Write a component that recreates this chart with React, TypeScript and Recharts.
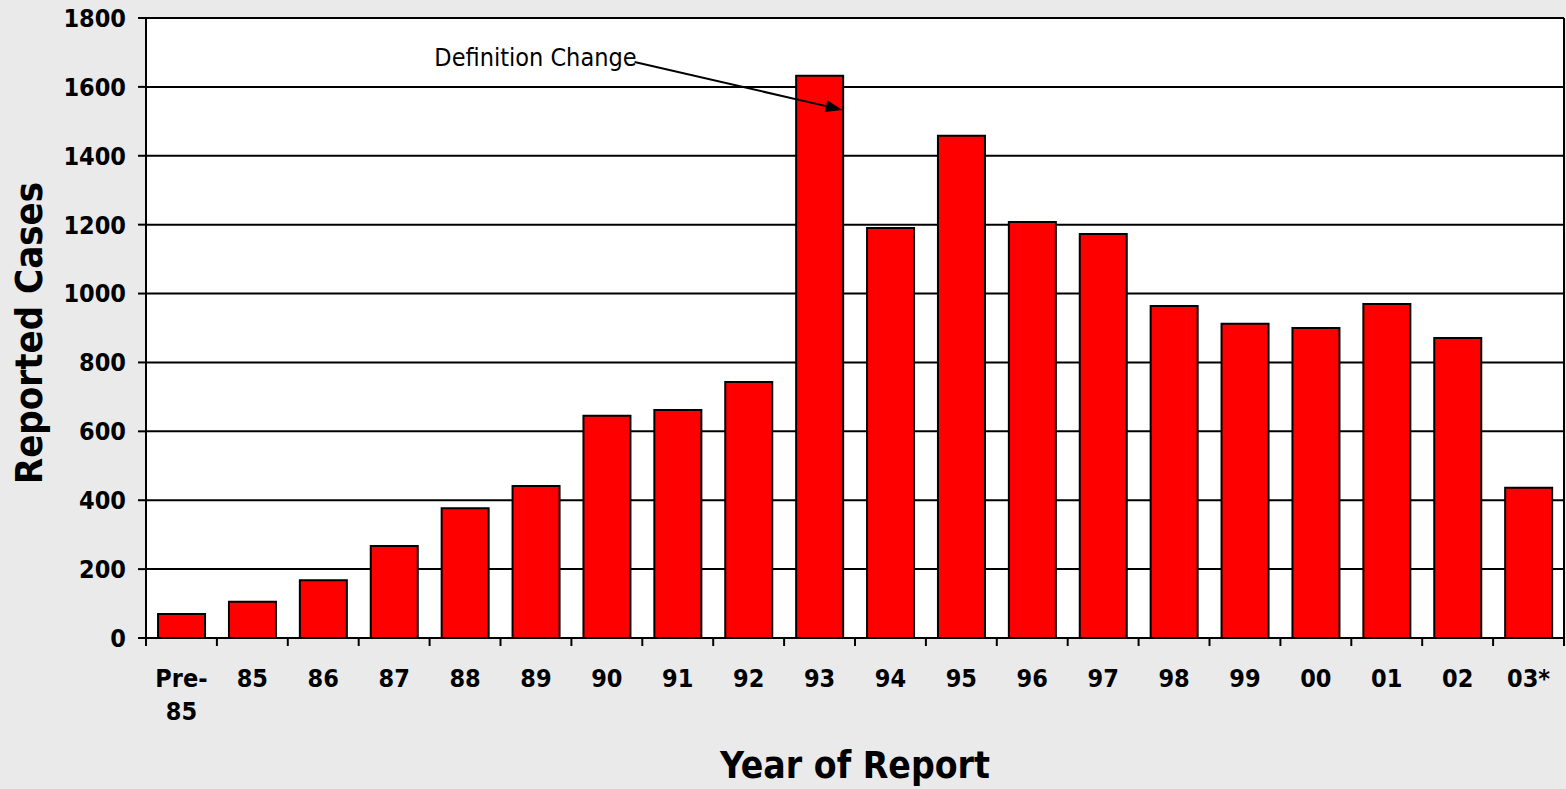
import {
  Bar,
  BarChart,
  CartesianGrid,
  Label,
  ReferenceDot,
  XAxis,
  YAxis,
} from "recharts";

const categories = [
  "Pre-85", "85", "86", "87", "88", "89", "90", "91", "92", "93",
  "94", "95", "96", "97", "98", "99", "00", "01", "02", "03*",
];
const reportedCases = [
  70, 105, 168, 267, 377, 441, 645, 662, 743, 1632,
  1190, 1458, 1208, 1173, 964, 912, 900, 970, 871, 436,
];
const yTicks = [0, 200, 400, 600, 800, 1000, 1200, 1400, 1600, 1800];

const data = categories.map((year, i) => ({ year, cases: reportedCases[i] }));

const FONT = "Tahoma, 'DejaVu Sans Condensed', 'DejaVu Sans', sans-serif";
const W = 1566;
const H = 789;
const LEFT = 146;
const RIGHT = 2;
const STEP = (W - LEFT - RIGHT) / categories.length;

const XTick = ({ x, y, payload, index }: any) => {
  const lines = payload.value === "Pre-85" ? ["Pre-", "85"] : [payload.value];
  const last = index === categories.length - 1;
  return (
    <g>
      <line x1={x - STEP / 2} y1={y} x2={x - STEP / 2} y2={y + 8} stroke="#000" strokeWidth={2} />
      {last && (
        <line x1={x + STEP / 2} y1={y} x2={x + STEP / 2} y2={y + 8} stroke="#000" strokeWidth={2} />
      )}
      {lines.map((t: string, i: number) => (
        <text
          key={i}
          x={x}
          y={y + 49 + i * 33}
          textAnchor="middle"
          fontFamily={FONT}
          fontWeight="bold"
          fontSize={25}
          fill="#000"
        >
          {t}
        </text>
      ))}
    </g>
  );
};

// arrow pointing at the 93 bar
const DefinitionNote = ({ cx, cy }: any) => {
  const x1 = cx - 185;
  const y1 = cy - 48;
  const x2 = cx + 23;
  const y2 = cy;
  const a = Math.atan2(y2 - y1, x2 - x1);
  const len = 17;
  const half = 6;
  const bx = x2 - len * Math.cos(a);
  const by = y2 - len * Math.sin(a);
  const pts = `${x2},${y2} ${bx + half * Math.sin(a)},${by - half * Math.cos(a)} ${bx - half * Math.sin(a)},${by + half * Math.cos(a)}`;
  return (
    <g>
      <line x1={x1} y1={y1} x2={bx} y2={by} stroke="#000" strokeWidth={2} />
      <polygon points={pts} fill="#000" />
      <text x={x1 + 2} y={y1 + 4} textAnchor="end" fontFamily={FONT} fontSize={25} fill="#000">
        Definition Change
      </text>
    </g>
  );
};

export default function App() {
  return (
    <div style={{ position: "absolute", left: 0, top: 0, width: W, height: H, background: "#eaeaea" }}>
      <BarChart
        width={W}
        height={H}
        data={data}
        margin={{ top: 18, right: 0, bottom: 0, left: 0 }}
        barCategoryGap="17%"
      >
        <CartesianGrid vertical={false} stroke="#000" strokeWidth={2} fill="#fff" fillOpacity={1} />
        <XAxis
          dataKey="year"
          height={151}
          interval={0}
          tickLine={false}
          tickSize={0}
          tickMargin={0}
          axisLine={{ stroke: "#000", strokeWidth: 2 }}
          tick={<XTick />}
        >
          <Label
            content={({ viewBox }: any) => (
              <text
                x={viewBox.x + viewBox.width / 2}
                y={viewBox.y + 140}
                textAnchor="middle"
                fontFamily={FONT}
                fontWeight="bold"
                fontSize={37}
                fill="#000"
              >
                Year of Report
              </text>
            )}
          />
        </XAxis>
        <YAxis
          width={LEFT}
          domain={[0, 1800]}
          ticks={yTicks}
          interval={0}
          tickSize={8}
          tickMargin={12}
          tickLine={{ stroke: "#000", strokeWidth: 2 }}
          axisLine={{ stroke: "#000", strokeWidth: 2 }}
          tick={{ fontFamily: FONT, fontWeight: "bold", fontSize: 25, fill: "#000" }}
        >
          <Label
            content={({ viewBox }: any) => {
              const cx = viewBox.x + 42;
              const cy = viewBox.y + viewBox.height / 2 + 5;
              return (
                <text
                  x={cx}
                  y={cy}
                  transform={`rotate(-90 ${cx} ${cy})`}
                  textAnchor="middle"
                  fontFamily={FONT}
                  fontWeight="bold"
                  fontSize={38}
                  fill="#000"
                >
                  Reported Cases
                </text>
              );
            }}
          />
        </YAxis>
        <YAxis
          yAxisId="right"
          orientation="right"
          width={RIGHT}
          domain={[0, 1800]}
          tick={false}
          tickLine={false}
          axisLine={{ stroke: "#000", strokeWidth: 2 }}
        />
        <Bar
          dataKey="cases"
          fill="#ff0000"
          stroke="#000"
          strokeWidth={2}
          isAnimationActive={false}
        />
        <ReferenceDot x="93" y={1533} r={0} shape={<DefinitionNote />} />
      </BarChart>
    </div>
  );
}
